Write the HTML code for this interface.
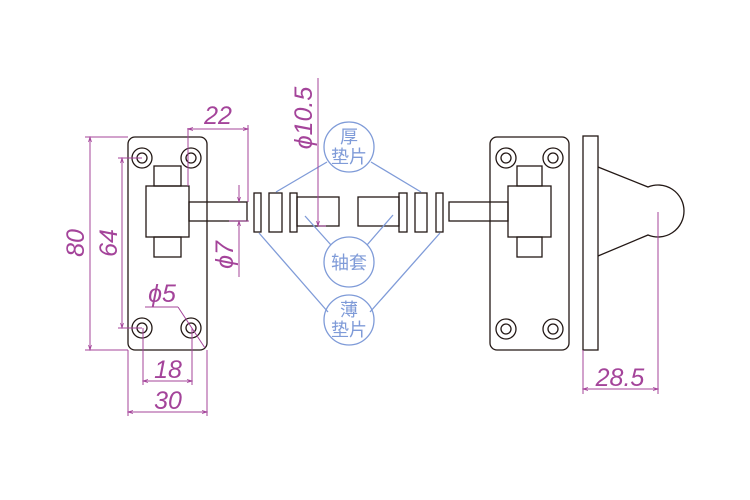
<!DOCTYPE html>
<html><head><meta charset="utf-8"><style>
html,body{margin:0;padding:0;background:#fff;}
svg{display:block}
.k{stroke:#231815;stroke-width:1.3;fill:none}
.m{stroke:#a4449a;stroke-width:1;fill:none}
.b{stroke:#7f9bd8;stroke-width:1.3;fill:none}
.mt{fill:#a4449a;font-family:"Liberation Sans","DejaVu Sans",sans-serif;font-style:italic;font-size:25px}
.bt{fill:#7f9bd8;font-family:"Liberation Sans","Noto Sans CJK SC",sans-serif;font-size:18px}
</style></head><body>
<svg width="750" height="500" viewBox="0 0 750 500" xmlns="http://www.w3.org/2000/svg">
<defs><marker id="a" viewBox="0 0 10 10" refX="10" refY="5" markerWidth="7" markerHeight="5" orient="auto-start-reverse"><path d="M0,2 L10,5 L0,8" fill="none" stroke="#a4449a" stroke-width="1.5"/></marker></defs>
<!-- left plate -->
<rect class="k" x="128" y="137" width="79" height="213" rx="7"/>
<g class="k">
<circle cx="142" cy="158" r="10"/><circle cx="142" cy="158" r="5"/>
<circle cx="191" cy="158" r="10"/><circle cx="191" cy="158" r="5"/>
<circle cx="142" cy="328" r="10"/><circle cx="142" cy="328" r="5"/>
<circle cx="191" cy="328" r="10"/><circle cx="191" cy="328" r="5"/>
<rect x="154" y="166" width="27" height="20"/>
<rect x="146" y="186" width="43" height="51"/>
<rect x="154" y="237" width="27" height="20"/>
<rect x="189" y="202" width="58" height="19"/>
</g>
<!-- washers / bushings -->
<g class="k">
<rect x="254" y="193" width="7" height="39"/>
<rect x="269" y="193" width="13" height="39"/>
<rect x="290" y="193" width="7" height="39"/>
<rect x="297" y="197" width="42" height="29"/>
<rect x="358" y="197" width="41" height="29"/>
<rect x="399" y="193" width="8" height="39"/>
<rect x="415" y="193" width="12" height="39"/>
<rect x="436" y="193" width="7" height="39"/>
</g>
<!-- right plate -->
<rect class="k" x="490" y="137" width="79" height="213" rx="7"/>
<g class="k">
<circle cx="506" cy="158" r="10"/><circle cx="506" cy="158" r="5"/>
<circle cx="553" cy="158" r="10"/><circle cx="553" cy="158" r="5"/>
<circle cx="506" cy="329" r="10"/><circle cx="506" cy="329" r="5"/>
<circle cx="553" cy="329" r="10"/><circle cx="553" cy="329" r="5"/>
<rect x="517" y="166" width="25" height="20"/>
<rect x="508" y="186" width="43" height="51"/>
<rect x="517" y="237" width="25" height="20"/>
<rect x="449" y="202" width="59" height="19"/>
<rect x="583" y="136" width="15" height="214"/>
<path d="M598,167 L648,187 A26,26 0 1 1 648,235 L598,256"/>
</g>
<!-- blue callouts -->
<g class="b">
<circle cx="349" cy="147" r="25"/>
<circle cx="349" cy="262" r="25"/>
<circle cx="349" cy="320" r="25"/>
<line x1="327" y1="162" x2="276" y2="192"/>
<line x1="371" y1="162" x2="421" y2="192"/>
<line x1="305" y1="216" x2="331" y2="245"/>
<line x1="393" y1="215" x2="367" y2="245"/>
<line x1="259" y1="233" x2="328" y2="312"/>
<line x1="440" y1="233" x2="370" y2="312"/>
</g>
<text class="bt" x="349" y="143" text-anchor="middle">厚</text>
<text class="bt" x="349" y="163" text-anchor="middle">垫片</text>
<text class="bt" x="349" y="269" text-anchor="middle">轴套</text>
<text class="bt" x="349" y="316" text-anchor="middle">薄</text>
<text class="bt" x="349" y="336" text-anchor="middle">垫片</text>
<!-- dimensions -->
<g class="m">
<line x1="85" y1="137" x2="128" y2="137"/><line x1="85" y1="350" x2="128" y2="350"/>
<line x1="90" y1="137" x2="90" y2="350" marker-start="url(#a)" marker-end="url(#a)"/>
<line x1="118" y1="158" x2="142" y2="158"/><line x1="118" y1="328" x2="142" y2="328"/>
<line x1="122" y1="158" x2="122" y2="328" marker-start="url(#a)" marker-end="url(#a)"/>
<line x1="188" y1="128" x2="188" y2="186"/><line x1="248" y1="125" x2="248" y2="202"/>
<line x1="188" y1="129" x2="248" y2="129" marker-start="url(#a)" marker-end="url(#a)"/>
<line x1="239" y1="185" x2="239" y2="202" marker-end="url(#a)"/>
<line x1="239" y1="221" x2="239" y2="277" marker-start="url(#a)"/>
<line x1="229" y1="221" x2="249" y2="221"/>
<line x1="145" y1="307" x2="178" y2="307"/><line x1="178" y1="307" x2="205" y2="348"/>
<line x1="143" y1="328" x2="143" y2="385"/><line x1="192" y1="328" x2="192" y2="385"/>
<line x1="143" y1="381" x2="192" y2="381" marker-start="url(#a)" marker-end="url(#a)"/>
<line x1="128" y1="350" x2="128" y2="416"/><line x1="207" y1="350" x2="207" y2="416"/>
<line x1="128" y1="412" x2="207" y2="412" marker-start="url(#a)" marker-end="url(#a)"/>
<line x1="318" y1="78" x2="318" y2="226" marker-end="url(#a)"/>
<line x1="318" y1="226" x2="326" y2="226"/>
<line x1="583" y1="350" x2="583" y2="394"/><line x1="658" y1="212" x2="658" y2="394"/>
<line x1="583" y1="389" x2="658" y2="389" marker-start="url(#a)" marker-end="url(#a)"/>
</g>
<text class="mt" transform="translate(84,243) rotate(-90)" text-anchor="middle">80</text>
<text class="mt" transform="translate(117,243) rotate(-90)" text-anchor="middle">64</text>
<text class="mt" x="218" y="124" text-anchor="middle">22</text>
<text class="mt" transform="translate(233,255) rotate(-90)" text-anchor="middle">ϕ7</text>
<text class="mt" x="162" y="302" text-anchor="middle">ϕ5</text>
<text class="mt" x="168" y="378" text-anchor="middle">18</text>
<text class="mt" x="168" y="409" text-anchor="middle">30</text>
<text class="mt" transform="translate(312,118) rotate(-90)" text-anchor="middle">ϕ10.5</text>
<text class="mt" x="620" y="386" text-anchor="middle">28.5</text>
</svg>
</body></html>
